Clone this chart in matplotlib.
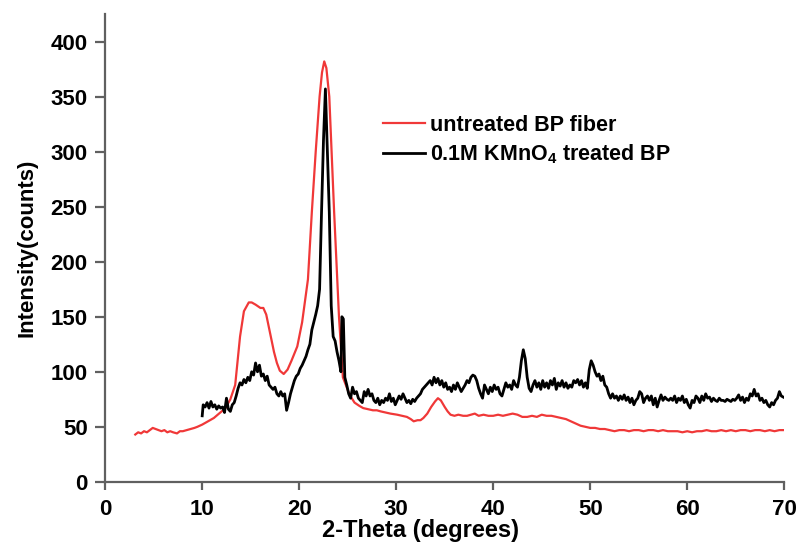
import matplotlib
matplotlib.use("Agg")
import matplotlib.pyplot as plt

# ---- data ----
untreated_x = [3.1, 3.4, 3.7, 4.0, 4.3, 4.6, 4.9, 5.2, 5.5, 5.8, 6.1, 6.4, 6.7, 7.0, 7.4,
               7.7, 8.0, 8.4, 8.8, 9.2, 9.5, 10.0, 10.4, 10.8, 11.2, 11.6, 12.0, 12.4,
               12.9, 13.4, 13.9, 14.3, 14.8, 15.1, 15.5, 16.0, 16.3, 16.6, 17.0, 17.4,
               17.7, 18.0, 18.4, 18.8, 19.2, 19.8, 20.3, 20.9, 21.3, 21.7, 22.1, 22.35,
               22.58, 22.8, 23.1, 23.6, 24.1, 24.5, 25.2, 25.7, 26.2, 26.6, 27.1, 27.6,
               28.0, 28.4, 28.9, 29.4, 30.1, 30.6, 31.1, 31.5, 31.8, 32.2, 32.5, 32.8,
               33.2, 33.6, 34.0, 34.3, 34.6, 35.0, 35.3, 35.6, 36.0, 36.4, 36.9, 37.3,
               37.7, 38.1, 38.5, 39.0, 39.5, 40.0, 40.5, 41.0, 41.5, 42.0, 42.5, 43.0,
               43.5, 44.0, 44.5, 45.0, 45.5, 46.0, 46.5, 47.0, 47.5, 48.0, 48.5, 49.0,
               49.5, 50.0, 50.5, 51.0, 51.5, 52.0, 52.5, 53.0, 53.5, 54.0, 54.5, 55.0,
               55.5, 56.0, 56.5, 57.0, 57.5, 58.0, 58.5, 59.0, 59.5, 60.0, 60.5, 61.0,
               61.5, 62.0, 62.5, 63.0, 63.5, 64.0, 64.5, 65.0, 65.5, 66.0, 66.5, 67.0,
               67.5, 68.0, 68.5, 69.0, 69.5, 69.9]
untreated_y = [43, 45, 44, 46, 45, 47, 49, 48, 47, 46, 47, 45, 46, 45, 44,
               46, 46, 47, 48, 49, 50, 52, 54, 56, 58, 61, 64, 67,
               75, 88, 132, 155, 163, 163, 161, 158, 158, 152, 135, 118,
               108, 101, 98, 102, 110, 123, 145, 184, 245, 300, 350, 372,
               382, 376, 350, 245, 150, 95, 79, 72, 69, 67, 66, 65,
               65, 64, 63, 62, 61, 60, 59, 57, 55, 56, 56, 58,
               62, 68, 73, 76, 74, 68, 64, 61, 60, 61, 60, 60,
               61, 62, 60, 61, 60, 60, 61, 60, 61, 62, 61, 59,
               59, 60, 59, 61, 60, 60, 59, 58, 57, 55, 53, 51,
               50, 49, 49, 48, 48, 47, 46, 47, 47, 46, 47, 47,
               46, 47, 47, 46, 47, 46, 46, 46, 45, 46, 45, 46,
               46, 47, 46, 46, 47, 46, 47, 46, 47, 47, 46, 47,
               47, 46, 47, 46, 47, 47]

treated_x = [10.0, 10.1, 10.3, 10.5, 10.7, 10.9, 11.1, 11.3, 11.5, 11.7, 11.9, 12.1, 12.3,
             12.5, 12.7, 12.9, 13.1, 13.3, 13.5, 13.7, 13.9, 14.1, 14.3, 14.5, 14.7, 14.9,
             15.1, 15.3, 15.5, 15.7, 15.9, 16.1, 16.3, 16.5, 16.7, 16.9, 17.1, 17.3, 17.5,
             17.7, 17.9, 18.1, 18.3, 18.5, 18.7, 18.9, 19.1, 19.3, 19.5, 19.7, 19.9, 20.1,
             20.3, 20.5, 20.7, 20.9, 21.1, 21.3, 21.5, 21.7, 21.9, 22.1, 22.3, 22.5, 22.7,
             22.9, 23.1, 23.3, 23.5, 23.7, 23.9, 24.1, 24.3, 24.4, 24.55, 24.7, 24.9, 25.1,
             25.3, 25.5, 25.7, 25.9, 26.1, 26.3, 26.5, 26.7, 26.9, 27.1, 27.3, 27.5, 27.7,
             27.9, 28.1, 28.3, 28.5, 28.7, 28.9, 29.1, 29.3, 29.5, 29.7, 29.9, 30.1, 30.3,
             30.5, 30.7, 30.9, 31.1, 31.3, 31.5, 31.7, 31.9, 32.1, 32.3, 32.5, 32.7, 32.9,
             33.1, 33.3, 33.5, 33.7, 33.9, 34.1, 34.3, 34.5, 34.7, 34.9, 35.1, 35.3, 35.5,
             35.7, 35.9, 36.1, 36.3, 36.5, 36.7, 36.9, 37.1, 37.3, 37.5, 37.7, 37.9, 38.1,
             38.3, 38.5, 38.7, 38.9, 39.1, 39.3, 39.5, 39.7, 39.9, 40.1, 40.3, 40.5, 40.7,
             40.9, 41.1, 41.3, 41.5, 41.7, 41.9, 42.1, 42.3, 42.5, 42.7, 42.9, 43.1, 43.3,
             43.5, 43.7, 43.9, 44.1, 44.3, 44.5, 44.7, 44.9, 45.1, 45.3, 45.5, 45.7, 45.9,
             46.1, 46.3, 46.5, 46.7, 46.9, 47.1, 47.3, 47.5, 47.7, 47.9, 48.1, 48.3, 48.5,
             48.7, 48.9, 49.1, 49.3, 49.5, 49.7, 49.9, 50.1, 50.3, 50.5, 50.7, 50.9, 51.1,
             51.3, 51.5, 51.7, 51.9, 52.1, 52.3, 52.5, 52.7, 52.9, 53.1, 53.3, 53.5, 53.7,
             53.9, 54.1, 54.3, 54.5, 54.7, 54.9, 55.1, 55.3, 55.5, 55.7, 55.9, 56.1, 56.3,
             56.5, 56.7, 56.9, 57.1, 57.3, 57.5, 57.7, 57.9, 58.1, 58.3, 58.5, 58.7, 58.9,
             59.1, 59.3, 59.5, 59.7, 59.9, 60.1, 60.3, 60.5, 60.7, 60.9, 61.1, 61.3, 61.5,
             61.7, 61.9, 62.1, 62.3, 62.5, 62.7, 62.9, 63.1, 63.3, 63.5, 63.7, 63.9, 64.1,
             64.3, 64.5, 64.7, 64.9, 65.1, 65.3, 65.5, 65.7, 65.9, 66.1, 66.3, 66.5, 66.7,
             66.9, 67.1, 67.3, 67.5, 67.7, 67.9, 68.1, 68.3, 68.5, 68.7, 68.9, 69.1, 69.3,
             69.5, 69.7, 69.9]
treated_y = [60, 70, 68, 72, 67, 73, 68, 70, 66, 69, 67, 68, 63,
             76, 66, 64, 70, 72, 78, 85, 90, 88, 93, 90, 95, 92,
             100, 97, 108, 100, 106, 96, 98, 92, 96, 88, 86, 84, 86,
             80, 78, 82, 78, 80, 65, 72, 80, 86, 92, 96, 98, 103,
             106, 110, 114, 120, 125, 138, 145, 152, 160, 175, 245, 310, 357,
             300, 245, 160, 132, 128, 118, 110, 100, 150, 148, 95, 88, 80,
             76, 86, 80, 82, 76, 74, 72, 82, 78, 84, 78, 80, 74,
             72, 76, 70, 74, 72, 76, 74, 80, 73, 76, 70, 74, 78,
             75, 80, 76, 72, 74, 71, 75, 73, 76, 78, 80, 84, 86,
             88, 90, 92, 88, 95, 90, 94, 88, 92, 86, 90, 84, 86,
             82, 88, 84, 90, 86, 82, 85, 88, 92, 90, 95, 97, 96,
             92, 85, 80, 76, 88, 84, 80, 86, 82, 88, 84, 86, 80,
             78, 84, 90, 86, 88, 84, 92, 88, 86, 95, 110, 120, 112,
             95, 85, 82, 88, 92, 86, 90, 84, 92, 86, 90, 85, 92,
             88, 94, 84, 90, 87, 92, 86, 90, 85, 88, 86, 92, 90,
             93, 88, 92, 86, 90, 85, 102, 110, 106, 100, 96, 98, 92,
             96, 88, 86, 80, 76, 80, 76, 78, 74, 78, 75, 79, 74,
             77, 72, 76, 70, 74, 76, 82, 80, 72, 76, 78, 74, 78,
             70, 76, 68, 74, 79, 74, 77, 75, 74, 76, 74, 78, 72,
             76, 74, 78, 72, 75, 70, 67, 74, 72, 78, 76, 72, 78,
             74, 80, 76, 77, 73, 76, 74, 73, 76, 74, 74, 73, 75,
             74, 73, 75, 74, 76, 79, 74, 77, 72, 76, 74, 80, 78,
             84, 78, 80, 74, 76, 72, 74, 70, 68, 72, 70, 74, 76,
             82, 78, 77]

labels = ["untreated BP fiber", "0.1M KMnO$_4$ treated BP"]
x_ticks = [0, 10, 20, 30, 40, 50, 60, 70]
y_ticks = [0, 50, 100, 150, 200, 250, 300, 350, 400]

plt.rcParams['font.family'] = ['Liberation Sans', 'DejaVu Sans']
plt.rcParams['mathtext.fontset'] = 'custom'
plt.rcParams['mathtext.rm'] = 'Liberation Sans:bold'
plt.rcParams['mathtext.it'] = 'Liberation Sans:bold'
plt.rcParams['mathtext.bf'] = 'Liberation Sans:bold'

fig = plt.figure(figsize=(7.97, 5.42), dpi=100)
ax = fig.add_axes([0.132, 0.111, 0.852, 0.863])

ax.plot(untreated_x, untreated_y, color='#f03838', lw=1.6, label=labels[0])
ax.plot(treated_x, treated_y, color='black', lw=2.0, label=labels[1])

ax.set_xlim(0, 70)
ax.set_ylim(0, 425)
ax.set_xticks(x_ticks)
ax.set_yticks(y_ticks)

for s in ['top', 'right']:
    ax.spines[s].set_visible(False)
for s in ['left', 'bottom']:
    ax.spines[s].set_color('#606060')
    ax.spines[s].set_linewidth(1.6)

ax.tick_params(axis='y', direction='out', length=7.5, width=1.6, color='#606060',
               labelsize=16, pad=5)
ax.tick_params(axis='x', direction='out', length=6, width=1.6, color='#606060',
               labelsize=16, pad=6)
for lab in ax.get_xticklabels() + ax.get_yticklabels():
    lab.set_fontweight('bold')

ax.set_xlabel('2-Theta (degrees)', fontsize=17, fontweight='bold', va='top')
ax.xaxis.set_label_coords(0.464, -0.079)
ax.set_ylabel('Intensity(counts)', fontsize=16, fontweight='bold')
ax.yaxis.set_label_coords(-0.1, 0.5)

leg = ax.legend(loc='upper left', bbox_to_anchor=(0.409, 0.785), frameon=False,
                prop={'size': 15.5, 'weight': 'bold'}, handlelength=1.95,
                handletextpad=0.25, labelspacing=0.3, borderaxespad=0,
                borderpad=0)

fig.savefig('out.png', dpi=100)
